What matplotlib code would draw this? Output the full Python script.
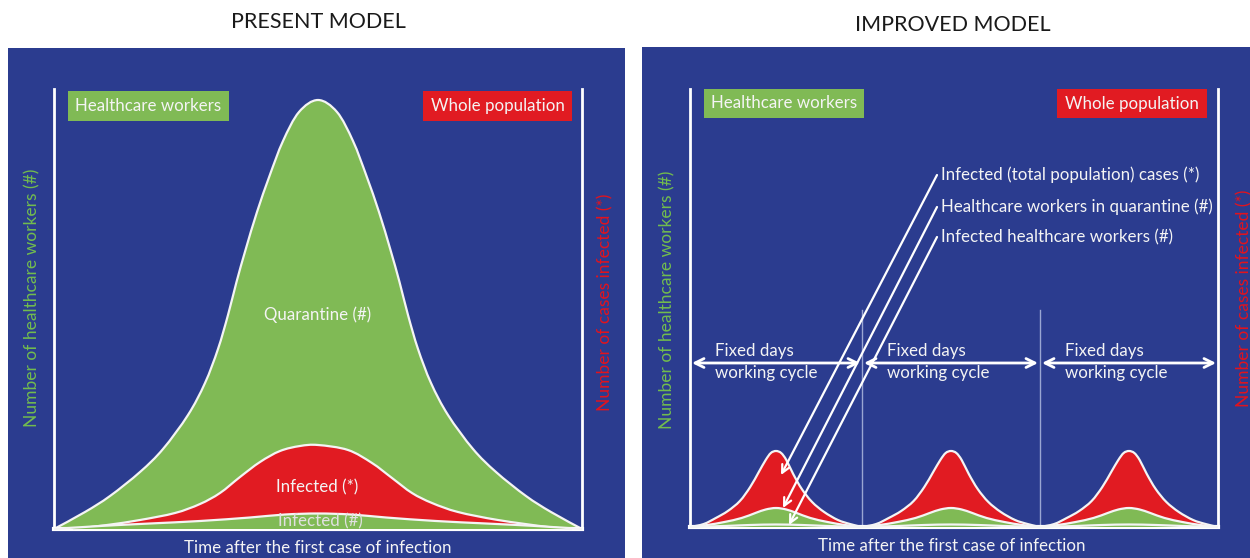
import numpy as np
import matplotlib
matplotlib.use("Agg")
import matplotlib.pyplot as plt
from matplotlib.path import Path
from matplotlib.patches import PathPatch, Rectangle

plt.rcParams['font.family'] = ['Lato', 'DejaVu Sans']

# ---------------- data ----------------
# PRESENT MODEL (time units across the panel 0..528, values 0..440)
quarantine_t = [0, 31, 56, 86, 109, 134, 151, 164, 174, 182.5, 191.5, 203, 215.5, 229, 245, 264,
                283, 299, 312.5, 325, 336.5, 345.5, 354, 364, 377, 394, 419, 442, 472, 497, 528]
quarantine_v = [0, 17, 33, 57, 80, 114, 146, 180, 214, 247, 279, 317, 353, 388, 417, 429,
                417, 388, 353, 317, 279, 247, 214, 180, 146, 114, 80, 57, 33, 17, 0]

infected_pop_t = [19, 53, 86, 121, 146, 166, 186, 206, 226, 246, 264,
                  294, 318, 338, 358, 378, 404, 444, 494, 518]
infected_pop_v = [0, 4, 9, 16, 25, 36, 52, 67, 78, 83, 84,
                  79, 66, 51, 36, 26, 17, 9, 2, 0]

infected_hcw_t = [0, 46, 96, 146, 196, 231, 264, 297, 332, 382, 432, 482, 528]
infected_hcw_v = [0, 3, 5.5, 8, 11.5, 14.5, 15.5, 14.5, 11.5, 8, 5.5, 3, 0]

# IMPROVED MODEL: working-cycle boundaries and per-cycle profiles (fraction of cycle)
cycle_bounds = [0, 172, 350, 528]
cyc_pop_f = [0, 0.08, 0.15, 0.22, 0.29, 0.35, 0.40, 0.44, 0.47, 0.50, 0.53, 0.56, 0.60, 0.65, 0.71, 0.78, 0.86, 0.93, 1.0]
cyc_pop_v = [0, 3, 9, 16, 26, 40, 55, 67, 74, 76, 74, 67, 53, 38, 25, 15, 7, 3, 0]
cyc_quar_f = [0, 0.1, 0.2, 0.3, 0.38, 0.44, 0.5, 0.56, 0.62, 0.7, 0.8, 0.9, 1.0]
cyc_quar_v = [0, 2, 5, 9, 14, 17.5, 19, 17.5, 14, 9, 5, 2, 0]
cyc_inf_f = [0, 0.2, 0.35, 0.5, 0.65, 0.8, 1.0]
cyc_inf_v = [0, 1, 2, 2.5, 2, 1, 0]

# annotation targets in the first cycle (time, value)
ann_labels = ["Infected (total population) cases (*)",
              "Healthcare workers in quarantine (#)",
              "Infected healthcare workers (#)"]
ann_tip_t = [91, 93, 99]
ann_tip_v = [52, 19, 2]

titles = ["PRESENT MODEL", "IMPROVED MODEL"]
xlab = "Time after the first case of infection"
ylab_left = "Number of healthcare workers (#)"
ylab_right = "Number of cases infected (*)"

# ---------------- style ----------------
BLUE = '#2B3C8F'
GREEN = '#80BA55'
RED = '#E11B22'
WHITE = '#F4F4F4'
LGREEN = '#72BC4E'
LRED = '#E3131D'
FS = 12.2

W, H = 1250, 558
fig = plt.figure(figsize=(W / 100, H / 100), dpi=100, facecolor='white')

bg = fig.add_axes([0, 0, 1, 1])
bg.set_xlim(0, W); bg.set_ylim(H, 0); bg.axis('off')
bg.add_patch(Rectangle((8, 48), 617, 510, color=BLUE, lw=0))
bg.add_patch(Rectangle((642, 47), 608, 511, color=BLUE, lw=0))
bg.text(318, 22, titles[0], ha='center', va='center', fontsize=15.5, color='#1a1a1a')
bg.text(953, 25, titles[1], ha='center', va='center', fontsize=15.5, color='#1a1a1a')


def smooth_path(xs, ys, close=True):
    P = np.column_stack([xs, ys]).astype(float)
    n = len(P)
    Pe = np.vstack([P[0], P, P[-1]])
    verts = [P[0]]
    codes = [Path.MOVETO]
    for i in range(n - 1):
        p0, p1, p2, p3 = Pe[i], Pe[i + 1], Pe[i + 2], Pe[i + 3]
        c1 = p1 + (p2 - p0) / 6.0
        c2 = p2 - (p3 - p1) / 6.0
        verts += [c1, c2, p2]
        codes += [Path.CURVE4] * 3
    if close:
        verts += [(P[-1, 0], 0), (P[0, 0], 0), (P[0, 0], 0)]
        codes += [Path.LINETO, Path.LINETO, Path.CLOSEPOLY]
    return Path(verts, codes)


def layer(ax, xs, ys, color, z):
    ax.add_patch(PathPatch(smooth_path(xs, ys), fc=color, ec='none', zorder=z, clip_on=False))
    ax.add_patch(PathPatch(smooth_path(xs, ys, close=False), fc='none', ec=WHITE, lw=1.6,
                           zorder=z + 0.5, clip_on=False))


def style_axes(ax):
    ax.set_facecolor('none')
    ax.set_xticks([]); ax.set_yticks([])
    ax.spines['top'].set_visible(False)
    for s in ['left', 'right']:
        ax.spines[s].set_color('white'); ax.spines[s].set_linewidth(2)
    ax.spines['bottom'].set_color('white'); ax.spines['bottom'].set_linewidth(3)


# left panel axes
ax1 = fig.add_axes([54 / W, (H - 529) / H, 528 / W, 440 / H])
ax1.set_xlim(0, 528); ax1.set_ylim(0, 440)
style_axes(ax1)
layer(ax1, quarantine_t, quarantine_v, GREEN, 2)
layer(ax1, infected_pop_t, infected_pop_v, RED, 3)
layer(ax1, infected_hcw_t, infected_hcw_v, GREEN, 4)

# right panel axes
ax2 = fig.add_axes([690 / W, (H - 527) / H, 528 / W, 438 / H])
ax2.set_xlim(0, 528); ax2.set_ylim(0, 438)
style_axes(ax2)
for k in range(3):
    a, b = cycle_bounds[k], cycle_bounds[k + 1]
    span = b - a
    layer(ax2, [a + f * span for f in cyc_pop_f], cyc_pop_v, RED, 2)
    layer(ax2, [a + f * span for f in cyc_quar_f], cyc_quar_v, GREEN, 3)
    layer(ax2, [a + f * span for f in cyc_inf_f], cyc_inf_v, GREEN, 4)
    ax2.annotate('', xy=(a + 2, 164), xytext=(b - 2, 164),
                 arrowprops=dict(arrowstyle='<->', color='white', lw=2, mutation_scale=16,
                                 shrinkA=0, shrinkB=0), zorder=6, annotation_clip=False)
    ax2.text(a + 25, 176, "Fixed days", color=WHITE, fontsize=FS, va='center', ha='left', zorder=7)
    ax2.text(a + 25, 154, "working cycle", color=WHITE, fontsize=FS, va='center', ha='left', zorder=7)
for b in cycle_bounds[1:-1]:
    ax2.plot([b, b], [0, 217], color='#9AA6D2', lw=1, zorder=1.5)

ann_y = [175, 207, 237]
for lab, tt, vv, yy in zip(ann_labels, ann_tip_t, ann_tip_v, ann_y):
    ax2.annotate('', xy=(tt, vv), xytext=(937, H - yy), textcoords='figure pixels',
                 arrowprops=dict(arrowstyle='->', color='white', lw=1.6, mutation_scale=14,
                                 shrinkA=0, shrinkB=0), zorder=8, annotation_clip=False)

# overlay texts
ov = fig.add_axes([0, 0, 1, 1], facecolor='none')
ov.set_xlim(0, W); ov.set_ylim(H, 0); ov.axis('off')

for (x0, y0, x1, y1, col, txt) in [(68, 91, 229, 121, GREEN, "Healthcare workers"),
                                    (423, 91, 572, 121, RED, "Whole population"),
                                    (704, 89, 864, 118, GREEN, "Healthcare workers"),
                                    (1057, 89, 1207, 118, RED, "Whole population")]:
    ov.add_patch(Rectangle((x0, y0), x1 - x0, y1 - y0, color=col, lw=0))
    ov.text((x0 + x1) / 2, (y0 + y1) / 2, txt, ha='center', va='center', color=WHITE, fontsize=FS)

ov.text(318, 315, "Quarantine (#)", ha='center', va='center', color=WHITE, fontsize=FS)
ov.text(317, 487, "Infected (*)", ha='center', va='center', color=WHITE, fontsize=FS)
ov.text(320, 521, "Infected (#)", ha='center', va='center', color='#E0E0E0', fontsize=FS)

ov.text(318, 548, xlab, ha='center', va='center', color=WHITE, fontsize=FS)
ov.text(952, 546, xlab, ha='center', va='center', color=WHITE, fontsize=FS)

ov.text(32, 298, ylab_left, rotation=90, ha='center', va='center', color=LGREEN, fontsize=12.5)
ov.text(605, 302, ylab_right, rotation=90, ha='center', va='center', color=LRED, fontsize=12.5)
ov.text(667, 300, ylab_left, rotation=90, ha='center', va='center', color=LGREEN, fontsize=12.5)
ov.text(1244, 298, ylab_right, rotation=90, ha='center', va='center', color=LRED, fontsize=12.5)

for lab, yy in zip(ann_labels, ann_y):
    ov.text(941, yy, lab, ha='left', va='center', color=WHITE, fontsize=12.2)

fig.savefig('out.png', dpi=100, facecolor='white')
